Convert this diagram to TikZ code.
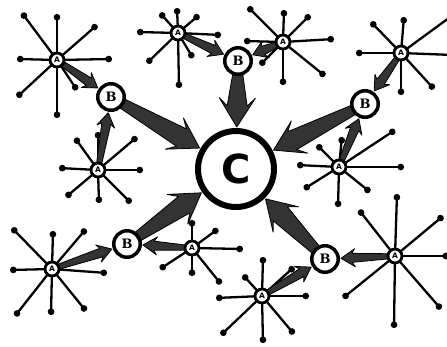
\documentclass[tikz,border=0pt]{standalone}
\usepackage{fontspec}
\setmainfont{DejaVu Serif}
\setsansfont{DejaVu Sans}
\usetikzlibrary{calc,arrows.meta}
\pgfdeclarelayer{bg}
\pgfsetlayers{bg,main}
\newcommand\myarrow[9]{%
 \coordinate (aT) at ($(#1.center)!#3!(#2.center)$);
 \coordinate (aH) at ($(#2.center)!#4!(#1.center)$);
 \coordinate (aN) at ($(aH)!#7!(aT)$);
 \coordinate (aB) at ($(aH)!#8!(aT)$);
 \path[arrowfill] ($(aT)!#5!90:(aH)$) -- ($(aN)!#6!90:(aH)$) -- ($(aB)!#9!90:(aH)$) -- (aH)
   -- ($(aB)!#9!-90:(aH)$) -- ($(aN)!#6!-90:(aH)$) -- ($(aT)!#5!-90:(aH)$) -- cycle;}
\newcommand\bigarrow[2]{\myarrow{#1}{#2}{13pt}{42pt}{5pt}{10pt}{21pt}{29pt}{18pt}}
\newcommand\smallarrow[2]{\myarrow{#1}{#2}{5pt}{16pt}{2.5pt}{4.5pt}{11pt}{14pt}{9pt}}
\begin{document}
\begin{tikzpicture}[x=1pt,y=-1pt,
 spoke/.style={line width=2.3pt,-{Circle[length=6.5pt]}},
 anode/.style={circle,fill=white,draw=black,line width=2.8pt,inner sep=0pt,minimum size=14pt,font=\sffamily\bfseries\fontsize{7.5}{7.5}\selectfont},
 bnode/.style={circle,fill=white,draw=black,line width=3.5pt,inner sep=0pt,minimum size=26.5pt,font=\bfseries\fontsize{13}{13}\selectfont},
 cnode/.style={circle,fill=white,draw=black,line width=6pt,inner sep=0pt,minimum size=76pt,font=\sffamily\bfseries\fontsize{40}{40}\selectfont},
 arrowfill/.style={fill=black!80,draw=black,line width=0.8pt,line join=round}]
\useasboundingbox (0,0) rectangle (447,346);
% nodes
\node[cnode] (C) at (236,169) {C};
\node[bnode] (B1) at (111,97) {B};
\node[bnode] (B2) at (238,61) {B};
\node[bnode] (B3) at (365,104) {B};
\node[bnode] (B4) at (127,244) {B};
\node[bnode] (B5) at (325,259) {B};
\node[anode] (A1) at (57,60) {A};
\node[anode] (A2) at (178,33) {A};
\node[anode] (A3) at (283,42) {A};
\node[anode] (A4) at (401,53) {A};
\node[anode] (A5) at (98,170) {A};
\node[anode] (A6) at (339,167) {A};
\node[anode] (A7) at (52,269) {A};
\node[anode] (A8) at (192,248) {A};
\node[anode] (A9) at (262,296) {A};
\node[anode] (A10) at (395,256) {A};
\begin{pgfonlayer}{bg}
\fill[white] (0,0) rectangle (447,346);
\foreach \e in {(0,-46),(-35,-47),(40,-35),(55,-1),(-40,-1),(-40,37),(0,58),(20,30)} \draw[spoke] (A1.center) -- ++\e;
\foreach \e in {(-1,-25),(-18,-20),(21,-18),(43,2),(-41,-1),(-31,30),(1,55),(15,25)} \draw[spoke] (A2.center) -- ++\e;
\foreach \e in {(1,-32),(-35,-35),(27,-27),(51,-3),(-39,-1),(-23,23),(0,43),(42,34)} \draw[spoke] (A3.center) -- ++\e;
\foreach \e in {(3,-36),(-30,-31),(-45,0),(52,2),(52,-38),(0,42),(33,36)} \draw[spoke] (A4.center) -- ++\e;
\foreach \e in {(-39,-2),(45,0),(-23,-32),(39,-33),(1,33),(-32,27),(33,33),(0,-38)} \draw[spoke] (A5.center) -- ++\e;
\foreach \e in {(65,0),(56,-37),(-22,-22),(3,-30),(-42,-2),(-1,40),(-35,22),(31,25)} \draw[spoke] (A6.center) -- ++\e;
\foreach \e in {(1,-38),(-40,-41),(34,-40),(-42,1),(55,4),(-1,46),(-37,47),(34,42)} \draw[spoke] (A7.center) -- ++\e;
\foreach \e in {(0,-28),(26,-19),(51,1),(29,36),(0,28),(-32,21)} \draw[spoke] (A8.center) -- ++\e;
\foreach \e in {(1,-39),(-19,-21),(-46,2),(-41,39),(1,47),(32,38),(47,0),(32,-29)} \draw[spoke] (A9.center) -- ++\e;
\foreach \e in {(2,-62),(-36,-46),(48,-40),(54,0),(-52,42),(-1,72),(46,53)} \draw[spoke] (A10.center) -- ++\e;
\smallarrow{A1}{B1}
\smallarrow{A5}{B1}
\smallarrow{A2}{B2}
\smallarrow{A3}{B2}
\smallarrow{A4}{B3}
\smallarrow{A6}{B3}
\smallarrow{A7}{B4}
\smallarrow{A8}{B4}
\smallarrow{A9}{B5}
\smallarrow{A10}{B5}
\bigarrow{B1}{C}
\bigarrow{B2}{C}
\bigarrow{B3}{C}
\bigarrow{B4}{C}
\bigarrow{B5}{C}
\end{pgfonlayer}
\end{tikzpicture}
\end{document}
